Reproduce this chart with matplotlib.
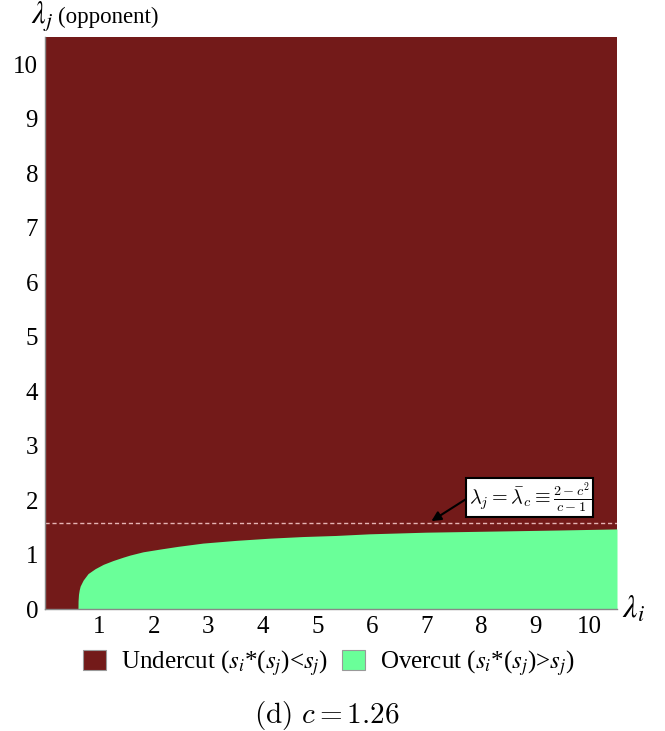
import matplotlib
matplotlib.use("Agg")
import matplotlib.pyplot as plt
from matplotlib.patches import Patch

# ---- data ----
c_value = 1.26
lambda_bar = (2 - c_value**2) / (c_value - 1)
x_range = [0, 10.5]
y_range = [0, 10.5]
tick_values = [1, 2, 3, 4, 5, 6, 7, 8, 9, 10]
ytick_values = [0, 1, 2, 3, 4, 5, 6, 7, 8, 9, 10]
# boundary of the overcut region (lambda_i, upper lambda_j)
boundary_x = [0.605, 0.607, 0.615, 0.628, 0.645, 0.70, 0.79, 0.92, 1.07, 1.25, 1.43, 1.56, 1.80,
              2.11, 2.44, 2.90, 3.51, 4.12, 4.73, 5.34, 5.95, 6.99, 8.21, 9.43, 10.5]
boundary_y = [0.0, 0.15, 0.27, 0.35, 0.42, 0.53, 0.65, 0.74, 0.82, 0.89, 0.95, 0.99, 1.05,
              1.10, 1.15, 1.21, 1.26, 1.30, 1.33, 1.35, 1.38, 1.41, 1.43, 1.45, 1.47]

maroon = "#731A19"
green = "#6AFF99"

plt.rcParams['font.family'] = ['Liberation Serif', 'DejaVu Serif']
plt.rcParams['mathtext.fontset'] = 'stix'

fig = plt.figure(figsize=(6.65, 7.31), dpi=100)
ax = fig.add_axes([45/665, 1-609/731, 572/665, 572/731])
ax.set_xlim(*x_range)
ax.set_ylim(*y_range)
ax.fill_between(x_range, [y_range[0]]*2, [y_range[1]]*2, color=maroon, lw=0, zorder=0)
ax.fill_between(boundary_x, 0, boundary_y, color=green, lw=0, zorder=1)
ax.axhline(lambda_bar, color="#E6B4B4", lw=1.0, ls=(0, (3, 2)), zorder=2)

for s in ['top', 'right']:
    ax.spines[s].set_visible(False)
for s in ['left', 'bottom']:
    ax.spines[s].set_color('#888888')
    ax.spines[s].set_linewidth(1.0)
ax.set_xticks(tick_values)
ax.set_yticks(ytick_values)
ax.set_xticklabels([str(t) for t in tick_values])
ax.set_yticklabels([str(t) for t in ytick_values])
ax.tick_params(length=0, labelsize=18, pad=5)

ax.annotate(r"$\lambda_j = \bar{\lambda}_c \equiv \frac{2-c^2}{c-1}$",
            xy=(7.05, lambda_bar), xytext=(8.9, 2.05),
            textcoords='data', fontsize=14.5, ha='center', va='center',
            math_fontfamily='cm',
            bbox=dict(boxstyle='square,pad=0.12', fc='white', ec='black', lw=1.5),
            arrowprops=dict(arrowstyle='-|>', color='black', lw=1.5, shrinkA=0, shrinkB=2,
                            mutation_scale=14, relpos=(0.0, 0.5)),
            zorder=5)

fig.text(31/665, 1-17/731, r"$\lambda_j$", fontsize=22, ha='left', va='center')
fig.text(58/665, 1-17/731, "(opponent)", fontsize=16.5, ha='left', va='center')
fig.text(622/665, 1-610/731, r"$\lambda_i$", fontsize=23, ha='left', va='center')

handles = [Patch(facecolor=maroon, edgecolor='#999999', lw=0.8),
           Patch(facecolor=green, edgecolor='#999999', lw=0.8)]
labels = [r"Undercut ($s_i$*($s_j$)<$s_j$)", r"Overcut ($s_i$*($s_j$)>$s_j$)"]
fig.legend(handles, labels, loc='center', bbox_to_anchor=(329/665, 1-663/731), ncol=2,
           frameon=False, fontsize=18, handlelength=0.9, handleheight=0.9,
           handletextpad=0.62, columnspacing=0.55, borderpad=0)

fig.text(327/665, 1-715/731, r"$\mathrm{(d)}\ c = 1.26$", fontsize=21, ha='center', va='center',
         math_fontfamily='cm')

fig.savefig("out.png", dpi=100)
